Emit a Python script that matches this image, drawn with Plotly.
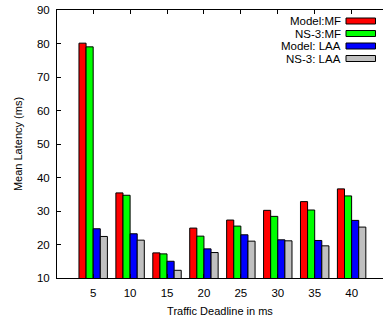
import plotly.graph_objects as go

deadlines = ["5", "10", "15", "20", "25", "30", "35", "40"]
series_names = ["Model:MF", "NS-3:MF", "Model: LAA", "NS-3: LAA"]
model_mf = [80.1, 35.4, 17.5, 24.9, 27.3, 30.2, 32.8, 36.6]
ns3_mf = [79.0, 34.7, 17.2, 22.5, 25.5, 28.4, 30.3, 34.5]
model_laa = [24.7, 23.2, 15.0, 18.7, 22.9, 21.4, 21.2, 27.2]
ns3_laa = [22.4, 21.3, 12.3, 17.6, 21.0, 21.1, 19.6, 25.2]
colors = ["#ff0000", "#00ff00", "#0000ff", "#c0c0c0"]
y_ticks = [10, 20, 30, 40, 50, 60, 70, 80, 90]

FONT = "Liberation Sans, Arial, sans-serif"
xs = list(range(len(deadlines)))

W, HGT = 383, 320
L, R, T, B = 57, 383, 10, 278
PW, PH = R - L, B - T

fig = go.Figure()
for name, vals, col in zip(series_names, [model_mf, ns3_mf, model_laa, ns3_laa], colors):
    fig.add_trace(go.Bar(
        x=xs, y=vals, name=name, base=0,
        marker=dict(color=col, line=dict(color="#000000", width=1)),
        showlegend=False,
    ))

# manual legend (text left of swatch, as in the reference)
row_y = [21, 33.5, 46, 58.5]
for i, (name, col) in enumerate(zip(series_names, colors)):
    yc = (B - row_y[i]) / PH
    fig.add_annotation(
        xref="paper", yref="paper", x=(342.5 - L) / PW, y=yc,
        text=name, showarrow=False, xanchor="right", yanchor="middle",
        font=dict(family=FONT, size=11.5, color="#000000"),
    )
    fig.add_shape(
        type="rect", xref="paper", yref="paper",
        x0=(346 - L) / PW, x1=(375.5 - L) / PW,
        y0=yc - 3 / PH, y1=yc + 3 / PH,
        fillcolor=col, line=dict(color="#000000", width=1),
    )

fig.update_layout(
    width=W, height=HGT,
    margin=dict(l=L, r=W - R, t=T, b=HGT - B),
    paper_bgcolor="white", plot_bgcolor="white",
    barmode="group", bargap=0.23, bargroupgap=0,
    font=dict(family=FONT, size=11.5, color="#000000"),
    xaxis=dict(
        range=[-0.98, 7.85], tickmode="array", tickvals=xs, ticktext=deadlines,
        showline=True, linecolor="#000000", linewidth=1, mirror="ticks",
        ticks="inside", ticklen=4, tickcolor="#000000", ticklabelstandoff=4,
        showgrid=False, zeroline=False, automargin=False,
        title=dict(text="Traffic Deadline in ms", font=dict(family=FONT, size=11), standoff=9),
    ),
    yaxis=dict(
        range=[10, 90], tickmode="array", tickvals=y_ticks,
        showline=True, linecolor="#000000", linewidth=1,
        ticks="inside", ticklen=4, tickcolor="#000000", ticklabelstandoff=4,
        showgrid=False, zeroline=False, automargin=False,
        title=dict(text="Mean Latency (ms)", font=dict(family=FONT, size=11), standoff=12),
    ),
)

fig.write_html("out.html", config={"displayModeBar": False},
               post_script="document.body.style.margin='0';")
